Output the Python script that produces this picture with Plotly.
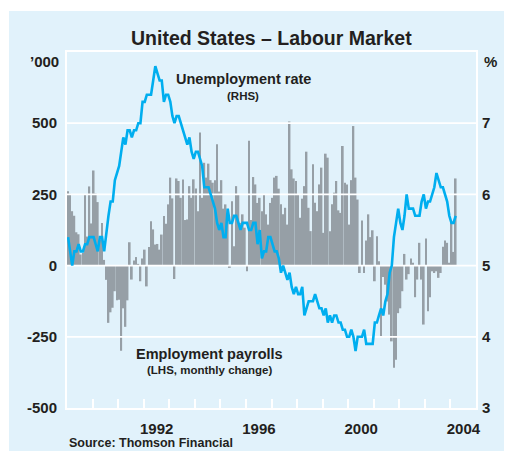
import pandas as pd
import plotly.graph_objects as go

# ---------------- data ----------------
START_MONTH = "1989-01-01"
X_RANGE = ["1989-01-01", "2005-01-01"]

payrolls_1989 = [261, 252, 191, 175, 117, 110, 39, 44, 250, 102, 278, 148]
payrolls_1990 = [334, 253, 223, 92, 150, 20, -50, -201, -164, -148, -90, -122]
payrolls_1991 = [-120, -299, -150, -215, -122, 82, -49, 18, 30, 6, -55, 25]
payrolls_1992 = [56, -73, 65, 156, 127, 74, 76, 56, 109, 174, 147, 215]
payrolls_1993 = [309, 236, -47, 306, 297, 238, 302, 160, 162, 279, 238, 303]
payrolls_1994 = [271, 191, 467, 238, 361, 309, 358, 300, 291, 300, 426, 260]
payrolls_1995 = [300, 200, 215, 156, -8, 226, 68, 279, 250, 150, 180, 133]
payrolls_1996 = [-20, 438, 160, 311, 285, 220, 238, 191, 250, 180, 144, 220]
payrolls_1997 = [238, 309, 315, 270, 215, 180, 203, 144, 506, 338, 306, 297]
payrolls_1998 = [250, 168, 235, 279, 400, 203, 121, 356, 221, 191, 285, 344]
payrolls_1999 = [115, 393, 379, 121, 215, 256, 297, 194, 185, 420, 291, 285]
payrolls_2000 = [144, 300, 490, 309, 232, -26, 158, -26, 88, 180, 100, 124]
payrolls_2001 = [-55, 103, 15, -250, -40, -67, -126, -172, -266, -359, -331, -167]
payrolls_2002 = [-150, -90, 41, -49, -30, 25, 10, -111, -49, 80, -49, -207]
payrolls_2003 = [95, -160, -111, -20, -26, -20, -43, -26, 66, 88, 80, 10]
payrolls_2004 = [154, 48, 306]

unemp_1989 = [5.4, 5.2, 5.0, 5.2, 5.2, 5.3, 5.2, 5.2, 5.3, 5.3, 5.4, 5.4]
unemp_1990 = [5.4, 5.3, 5.2, 5.4, 5.4, 5.2, 5.5, 5.7, 5.9, 5.9, 6.2, 6.3]
unemp_1991 = [6.4, 6.6, 6.8, 6.7, 6.9, 6.9, 6.8, 6.9, 6.9, 7.0, 7.0, 7.3]
unemp_1992 = [7.3, 7.4, 7.4, 7.4, 7.6, 7.8, 7.7, 7.6, 7.6, 7.3, 7.4, 7.4]
unemp_1993 = [7.3, 7.1, 7.0, 7.1, 7.1, 7.0, 6.9, 6.8, 6.7, 6.8, 6.6, 6.5]
unemp_1994 = [6.6, 6.6, 6.5, 6.4, 6.1, 6.1, 6.1, 6.0, 5.9, 5.8, 5.6, 5.5]
unemp_1995 = [5.6, 5.4, 5.4, 5.8, 5.6, 5.6, 5.7, 5.7, 5.6, 5.5, 5.6, 5.6]
unemp_1996 = [5.6, 5.5, 5.5, 5.6, 5.6, 5.3, 5.5, 5.1, 5.2, 5.2, 5.4, 5.4]
unemp_1997 = [5.3, 5.2, 5.2, 5.1, 4.9, 5.0, 4.9, 4.8, 4.9, 4.7, 4.6, 4.7]
unemp_1998 = [4.6, 4.6, 4.7, 4.3, 4.4, 4.5, 4.5, 4.5, 4.6, 4.5, 4.4, 4.4]
unemp_1999 = [4.3, 4.4, 4.2, 4.3, 4.2, 4.3, 4.3, 4.2, 4.2, 4.1, 4.1, 4.0]
unemp_2000 = [4.0, 4.1, 4.0, 3.8, 4.0, 4.0, 4.0, 4.1, 3.9, 3.9, 3.9, 3.9]
unemp_2001 = [4.2, 4.2, 4.3, 4.4, 4.3, 4.5, 4.6, 4.9, 5.0, 5.4, 5.6, 5.8]
unemp_2002 = [5.6, 5.5, 5.7, 6.0, 5.8, 5.8, 5.8, 5.7, 5.7, 5.7, 5.9, 6.0]
unemp_2003 = [5.8, 5.9, 5.9, 6.0, 6.1, 6.3, 6.2, 6.1, 6.1, 6.0, 5.9, 5.7]
unemp_2004 = [5.6, 5.6, 5.7]

left_ticks = [-500, -250, 0, 250, 500]
left_labels = ["-500", "-250", "0", "250", "500"]
left_range = [-500, 750]
right_ticks = [3, 4, 5, 6, 7]
right_range = [3, 8]
grid_levels = [-250, 0, 250, 500]
tick_years = list(range(1990, 2005))
year_labels = ["1992", "1996", "2000", "2004"]

payrolls = (payrolls_1989 + payrolls_1990 + payrolls_1991 + payrolls_1992 + payrolls_1993
            + payrolls_1994 + payrolls_1995 + payrolls_1996 + payrolls_1997 + payrolls_1998
            + payrolls_1999 + payrolls_2000 + payrolls_2001 + payrolls_2002 + payrolls_2003
            + payrolls_2004)
unemp = (unemp_1989 + unemp_1990 + unemp_1991 + unemp_1992 + unemp_1993 + unemp_1994
         + unemp_1995 + unemp_1996 + unemp_1997 + unemp_1998 + unemp_1999 + unemp_2000
         + unemp_2001 + unemp_2002 + unemp_2003 + unemp_2004)
months = pd.date_range(START_MONTH, periods=len(payrolls), freq="MS")

# ---------------- style ----------------
BG = "#e1f2fb"
BAR = "#969fa6"
LINE = "#00aeef"
TXT = "#231f20"
FONT = "Liberation Sans, Arial, sans-serif"

# page has an 8px body margin: figure is placed at (8, 8)
OFF = 8
PAGE_W, PAGE_H = 512, 451
W, H = PAGE_W - OFF, PAGE_H - OFF
# plot area in page pixels
PL, PR, PT, PB = 67, 476, 52, 408
ML, MR, MT, MB = PL - OFF, PAGE_W - PR, PT - OFF, PAGE_H - PB
YEAR_PX = (PR - PL) / 16


def px(xp):
    return (xp - PL) / (PR - PL)


def py(yp):
    return (PB - yp) / (PB - PT)


fig = go.Figure()
fig.add_trace(go.Bar(x=months, y=payrolls, marker=dict(color=BAR, line=dict(width=0)),
                     xperiod="M1", xperiodalignment="middle", yaxis="y",
                     showlegend=False, hoverinfo="skip"))

# horizontal grid drawn over the bars
gx, gy = [], []
for g in grid_levels:
    gx += [X_RANGE[0], X_RANGE[1], None]
    gy += [g, g, None]
fig.add_trace(go.Scatter(x=gx, y=gy, mode="lines", line=dict(color="white", width=1.8),
                         yaxis="y", showlegend=False, hoverinfo="skip"))

fig.add_trace(go.Scatter(x=months, y=unemp, mode="lines", line=dict(color=LINE, width=2.6),
                         xperiod="M1", xperiodalignment="middle", yaxis="y2",
                         showlegend=False, hoverinfo="skip"))

tickfont = dict(family=FONT, size=15, color=TXT, weight="bold")

fig.update_layout(
    width=W, height=H, autosize=False,
    margin=dict(l=ML, r=MR, t=MT, b=MB, pad=0),
    paper_bgcolor="white", plot_bgcolor=BG,
    bargap=0.15,
    xaxis=dict(type="date", range=X_RANGE,
               tickmode="array",
               tickvals=[f"{y}-01-01" for y in tick_years],
               ticktext=[str(y) if str(y) in year_labels else "" for y in tick_years],
               ticks="inside", ticklen=9, tickwidth=1.5, tickcolor="white",
               ticklabelshift=round(YEAR_PX / 2), ticklabelstandoff=6,
               tickfont=tickfont, showgrid=False, zeroline=False,
               showline=True, linecolor="white", linewidth=2, mirror=True),
    yaxis=dict(range=left_range, tickmode="array", tickvals=left_ticks, ticktext=left_labels,
               ticks="", tickfont=tickfont, showgrid=False, zeroline=False,
               showline=True, linecolor="white", linewidth=2, mirror=True,
               ticklabelstandoff=5),
    yaxis2=dict(range=right_range, tickmode="array", tickvals=right_ticks, ticks="",
                tickfont=tickfont, showgrid=False, zeroline=False, overlaying="y",
                side="right", showline=False, ticklabelstandoff=5),
    shapes=[dict(type="rect", xref="paper", yref="paper", x0=px(9), x1=px(PAGE_W + 5),
                 y0=py(PAGE_H + 5), y1=py(11), fillcolor=BG, line=dict(width=0),
                 layer="below")],
)


def ann(text, x, y, size, xanchor="center"):
    fig.add_annotation(text=text, xref="paper", yref="paper", x=x, y=y, xanchor=xanchor,
                       yanchor="middle", showarrow=False,
                       font=dict(family=FONT, size=size, color=TXT, weight="bold"))


ann("United States – Labour Market", px(271), py(38), 19.5)
ann("’000", px(61), py(61), 15, "right")
ann("%", px(482), py(61), 15, "left")
ann("Unemployment rate", px(243.5), py(79), 14.5)
ann("(RHS)", px(243), py(95.5), 11.5)
ann("Employment payrolls", px(209.3), py(354), 14.5)
ann("(LHS, monthly change)", px(209.5), py(370), 11.5)
ann("Source: Thomson Financial", px(67), py(443), 12.5, "left")

fig.write_html("out.html")
